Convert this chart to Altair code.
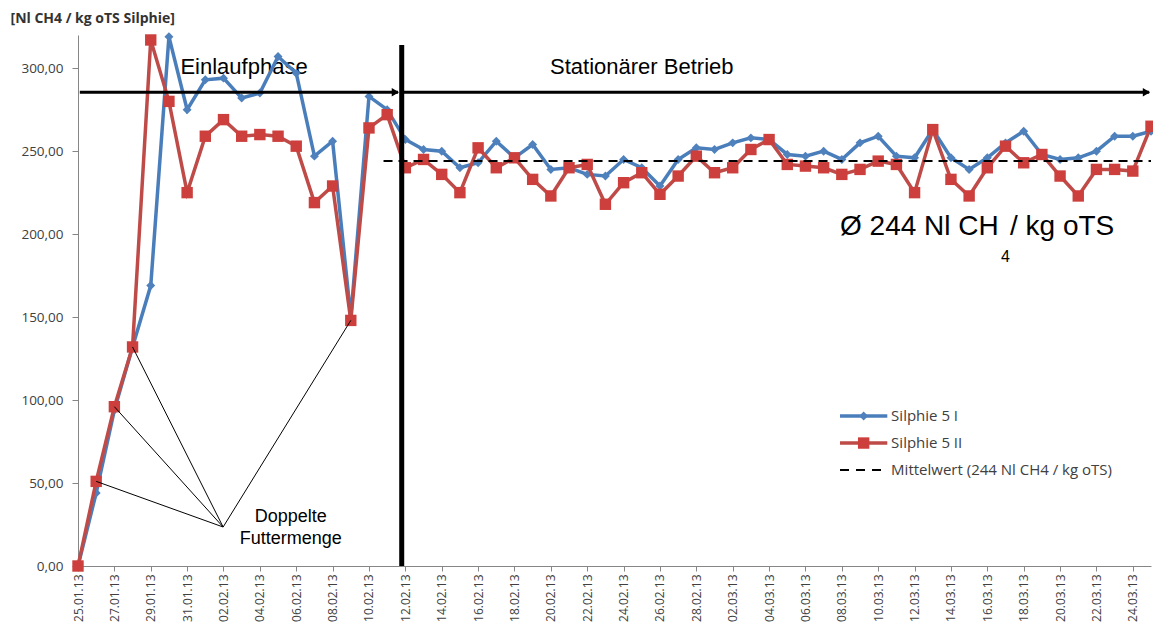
import altair as alt
import pandas as pd

# ---------------- data ----------------
dates = pd.date_range("2013-01-25", "2013-03-25", freq="D")
date_labels = [d.strftime("%d.%m.%y") for d in dates]

silphie_1 = [0, 44, 94, 132, 169, 319, 275, 293, 294, 282, 285, 307, 297, 247, 256, 150, 283, 275,
             257, 251, 250, 240, 243, 256, 246, 254, 239, 240, 236, 235, 245, 240, 229, 245, 252, 251,
             255, 258, 257,
             248, 247, 250, 245, 255, 259, 247, 246, 263, 246, 239, 246, 255, 262, 248, 245, 246, 250,
             259, 259, 262]
silphie_2 = [0, 51, 96, 132, 317, 280, 225, 259, 269, 259, 260, 259, 253, 219, 229, 148, 264, 272,
             240, 245, 236, 225, 252, 240, 246, 233, 223, 240, 242, 218, 231, 237, 224, 235, 247, 237,
             240, 251, 257,
             242, 241, 240, 236, 239, 244, 242, 225, 263, 233, 223, 240, 253, 243, 248, 235, 223, 239,
             239, 238, 265]
series_names = ["Silphie 5 I", "Silphie 5 II"]
mean_value = 244
y_ticks = [0, 50, 100, 150, 200, 250, 300]
x_ticks = list(range(0, len(date_labels), 2))

# doubled feed days (index of date) -> annotation target
double_feed_idx = [1, 2, 3, 15]

BLUE_LINE, BLUE_PT = "#4a7ebb", "#4f81bd"
RED_LINE, RED_PT = "#be4b48", "#cc3f3c"
FONT_AX = "Open Sans"
FONT_TX = "Liberation Sans"

n = len(date_labels)
df = pd.DataFrame({
    "i": list(range(n)) * 2,
    "v": silphie_1 + silphie_2,
    "s": [series_names[0]] * n + [series_names[1]] * n,
})

label_js = "[" + ",".join("'" + l + "'" for l in date_labels) + "][datum.value]"

X = alt.X("i:Q",
          scale=alt.Scale(domain=[0, n - 1], nice=False, zero=False),
          axis=alt.Axis(values=x_ticks, labelExpr=label_js, labelAngle=270, grid=False,
                        labelOverlap=False, labelBound=False, labelFlush=False,
                        title=None, labelFont=FONT_AX, labelFontSize=12, labelColor="#404040",
                        domainColor="#868686", tickColor="#868686", tickSize=5, labelPadding=3))
Y = alt.Y("v:Q",
          scale=alt.Scale(domain=[0, 320], nice=False),
          axis=alt.Axis(values=y_ticks,
                        labelExpr="replace(format(datum.value, '.2f'), '.', ',')",
                        labelOverlap=False,
                        grid=False, labelFont=FONT_AX, labelFontSize=13.5, labelColor="#404040",
                        domainColor="#868686", tickColor="#868686", tickSize=6, labelPadding=9,
                        title="[Nl CH4 / kg oTS Silphie]", titleAngle=0, titleAlign="left",
                        titleBaseline="middle", titleX=-68, titleY=-17, titleFont=FONT_AX,
                        titleFontSize=14, titleFontWeight="bold", titleColor="#333333"))

base = alt.Chart(df)


def series_layers(name, lc, pc, shape, size):
    b = base.transform_filter(alt.datum.s == name)
    line = b.mark_line(strokeWidth=3.5, color=lc).encode(x=X, y=Y)
    pts = b.mark_point(filled=True, opacity=1, color=pc, shape=shape, size=size).encode(x=X, y=Y)
    return [line, pts]


# ---------------- annotations ----------------
ann_text = pd.DataFrame({"i": [9.13, 31.0], "v": [300.6, 300.6],
                         "t": ["Einlaufphase", "Stationärer Betrieb"]})
phase_text = alt.Chart(ann_text).mark_text(font=FONT_TX, fontSize=22, color="#000000",
                                           baseline="middle", align="center").encode(
    x=X, y=Y, text="t:N")

arrows = pd.DataFrame({"i": [0.1, 17.8], "i2": [17.6, 58.9], "v": [285.5, 285.5]})
arrow_lines = alt.Chart(arrows).mark_rule(strokeWidth=3, color="#000000").encode(
    x=X, x2="i2:Q", y=Y)
heads = pd.DataFrame({"i": [17.45, 58.75], "v": [285.5, 285.5]})
arrow_heads = alt.Chart(heads).mark_point(shape="triangle-right", filled=True, opacity=1,
                                          color="#000000", size=70).encode(x=X, y=Y)

vline = alt.Chart(pd.DataFrame({"i": [17.8], "v": [0], "v2": [314]})).mark_rule(
    strokeWidth=5, color="#000000").encode(x=X, y=Y, y2="v2:Q")

mean_df = pd.DataFrame({"i": [16.8], "i2": [n - 1], "v": [mean_value]})
mean_line = alt.Chart(mean_df).mark_rule(strokeWidth=2, color="#000000", strokeDash=[9, 6]).encode(
    x=X, x2="i2:Q", y=Y)

feed_df = pd.DataFrame({
    "i": [7.98] * len(double_feed_idx), "v": [23.5] * len(double_feed_idx),
    "i2": double_feed_idx, "v2": [silphie_2[k] for k in double_feed_idx],
})
feed_lines = alt.Chart(feed_df).mark_rule(strokeWidth=1, color="#000000").encode(
    x=X, y=Y, x2="i2:Q", y2="v2:Q")
feed_txt = alt.Chart(pd.DataFrame({"i": [11.7, 11.7], "v": [29.5, 16.0],
                                   "t": ["Doppelte", "Futtermenge"]})).mark_text(
    font=FONT_TX, fontSize=18, color="#000000", align="center", baseline="middle").encode(
    x=X, y=Y, text="t:N")

avg_anchor = pd.DataFrame({"i": [41.9], "v": [199.4]})
avg_main = alt.Chart(avg_anchor).mark_text(font=FONT_TX, fontSize=28, color="#000000",
                                           align="left", baseline="alphabetic",
                                           text="Ø 244 Nl CH").encode(x=X, y=Y)
avg_sub = alt.Chart(avg_anchor).mark_text(font=FONT_TX, fontSize=16, color="#000000",
                                          align="left", baseline="alphabetic", dx=161, dy=27,
                                          text="4").encode(x=X, y=Y)
avg_rest = alt.Chart(avg_anchor).mark_text(font=FONT_TX, fontSize=28, color="#000000",
                                           align="left", baseline="alphabetic", dx=170,
                                           text=" / kg oTS").encode(x=X, y=Y)

# ---------------- manual legend ----------------
leg_rows = [90.4, 74.1, 57.8]
leg_lines = pd.DataFrame({"i": [41.9] * 3, "i2": [44.5] * 3, "v": leg_rows})
leg_l1 = alt.Chart(leg_lines.iloc[[0]]).mark_rule(strokeWidth=3.5, color=BLUE_LINE).encode(
    x=X, x2="i2:Q", y=Y)
leg_l2 = alt.Chart(leg_lines.iloc[[1]]).mark_rule(strokeWidth=3.5, color=RED_LINE).encode(
    x=X, x2="i2:Q", y=Y)
leg_l3 = alt.Chart(leg_lines.iloc[[2]]).mark_rule(strokeWidth=2, color="#000000",
                                                  strokeDash=[9, 7]).encode(
    x=X, x2="i2:Q", y=Y)
leg_p1 = alt.Chart(pd.DataFrame({"i": [43.2], "v": [leg_rows[0]]})).mark_point(
    shape="diamond", filled=True, opacity=1, color=BLUE_PT, size=80).encode(x=X, y=Y)
leg_p2 = alt.Chart(pd.DataFrame({"i": [43.2], "v": [leg_rows[1]]})).mark_point(
    shape="square", filled=True, opacity=1, color=RED_PT, size=130).encode(x=X, y=Y)
leg_txt = alt.Chart(pd.DataFrame({"i": [44.6] * 3, "v": leg_rows,
                                  "t": [series_names[0], series_names[1],
                                        "Mittelwert (244 Nl CH4 / kg oTS)"]})).mark_text(
    font=FONT_AX, fontSize=15, color="#404040", align="left", baseline="middle", dx=2).encode(
    x=X, y=Y, text="t:N")

layers = (series_layers(series_names[0], BLUE_LINE, BLUE_PT, "diamond", 80)
          + series_layers(series_names[1], RED_LINE, RED_PT, "square", 130))

chart = alt.layer(
    phase_text, *layers, mean_line, arrow_lines, arrow_heads, vline, feed_lines, feed_txt,
    avg_main, avg_sub, avg_rest, leg_l1, leg_l2, leg_l3, leg_p1, leg_p2, leg_txt,
).properties(
    width=1073, height=531,
    padding={"left": 70, "top": 27, "right": 2, "bottom": 63},
    autosize=alt.AutoSizeParams(type="none"),
    background="white",
).configure_view(stroke=None)

chart.save("out.html", embed_options={"renderer": "svg", "actions": False})
